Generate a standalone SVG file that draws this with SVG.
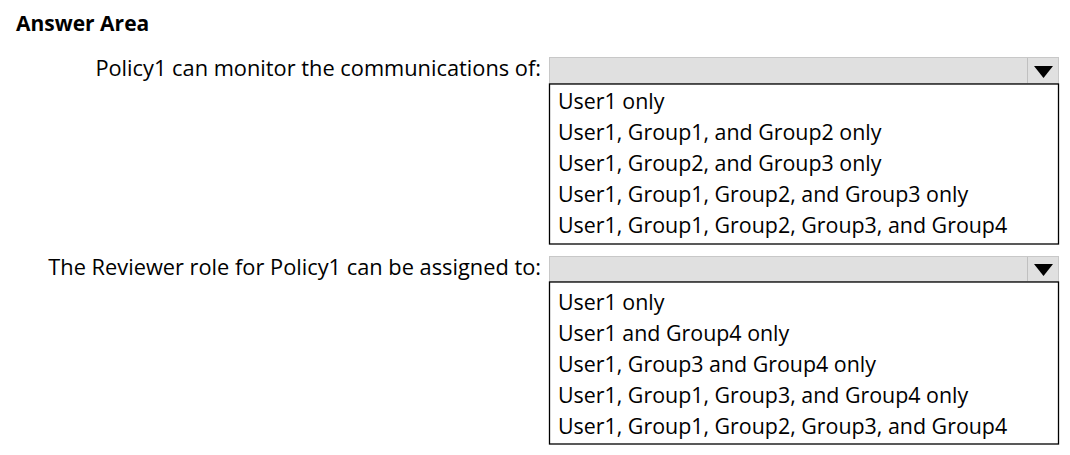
<svg xmlns="http://www.w3.org/2000/svg" width="1070" height="455" viewBox="0 0 1070 455">
<style>
text{font-family:"Open Sans","Noto Sans","DejaVu Sans",sans-serif;fill:#000}
.lbl{font-size:21.8px;text-anchor:end}
.opt{font-size:21.4px}
.h{font-size:21px;font-weight:bold}
.combo{fill:#e0e0e0;stroke:#c8c8c8;stroke-width:1}
.sep{stroke:#c0c0c0;stroke-width:1}
.list{fill:#fff;stroke:#000;stroke-width:1.3}
</style>
<defs>
<path id="arrow" d="M0,0 L19,0 L9.5,12 Z" fill="#000"/>
</defs>
<rect width="1070" height="455" fill="#fff"/>
<text id="title" class="h" x="16" y="31">Answer Area</text>
<g id="q1">
<text class="lbl" x="541" y="76">Policy1 can monitor the communications of:</text>
<g id="q1-combo">
<rect class="combo" x="549.5" y="57.5" width="509" height="26"/>
<line class="sep" x1="1027.5" y1="58" x2="1027.5" y2="83"/>
<use href="#arrow" x="1034" y="66"/>
</g>
<g id="q1-list">
<rect class="list" x="549.5" y="84" width="509" height="160"/>
<text class="opt" x="558" y="108.5">User1 only</text>
<text class="opt" x="558" y="139.5">User1, Group1, and Group2 only</text>
<text class="opt" x="558" y="170.5">User1, Group2, and Group3 only</text>
<text class="opt" x="558" y="201.5">User1, Group1, Group2, and Group3 only</text>
<text class="opt" x="558" y="232.5">User1, Group1, Group2, Group3, and Group4</text>
</g>
</g>
<g id="q2">
<text class="lbl" x="541" y="275">The Reviewer role for Policy1 can be assigned to:</text>
<g id="q2-combo">
<rect class="combo" x="549.5" y="256.5" width="509" height="25"/>
<line class="sep" x1="1027.5" y1="257" x2="1027.5" y2="281"/>
<use href="#arrow" x="1034" y="264"/>
</g>
<g id="q2-list">
<rect class="list" x="549.5" y="282" width="509" height="162"/>
<text class="opt" x="558" y="310">User1 only</text>
<text class="opt" x="558" y="341">User1 and Group4 only</text>
<text class="opt" x="558" y="372">User1, Group3 and Group4 only</text>
<text class="opt" x="558" y="403">User1, Group1, Group3, and Group4 only</text>
<text class="opt" x="558" y="434">User1, Group1, Group2, Group3, and Group4</text>
</g>
</g>
</svg>
